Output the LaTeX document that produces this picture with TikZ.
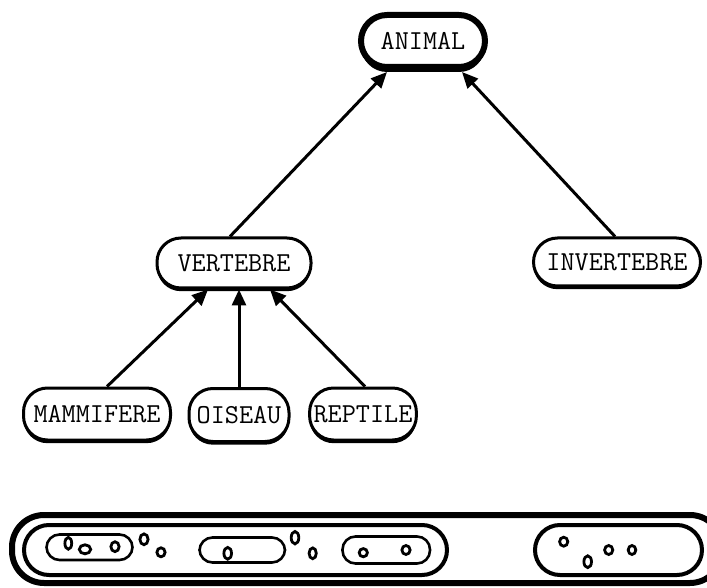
\documentclass[tikz,border=0pt]{standalone}
\usepackage{fontspec}
\usepackage{tikz}
\usetikzlibrary{
  shapes,
  arrows.meta,
  shadows,      % Key "drop shadow" (thicker lower border)
}
\tikzset{
  font=\ttfamily\fontsize{13.7pt}{16pt}\selectfont,
  semithick,
  my class/.style={
    draw,
    fill=white,
    rectangle,
    rounded corners=12pt,
    line width=1.5pt,
    inner xsep=2pt,
    inner ysep=0pt,
    drop shadow={shadow xshift=0pt,shadow yshift=-1.6pt,opacity=1,fill=black}
  },
  my root/.style={
    draw,
    fill=white,
    rectangle,
    rounded corners=13pt,
    line width=3pt,
    inner xsep=2pt,
    inner ysep=0pt,
    drop shadow={shadow xshift=0pt,shadow yshift=-2.5pt,opacity=1,fill=black}
  },
  my link/.style={
    -{Triangle[length=8pt,width=7pt]},
    line width=1.5pt
  },
  my universe/.style={
    line width=3pt,
    rounded corners=16pt
  },
  my set/.style={
    line width=2pt,
    rounded corners=12.5pt
  },
  my subset/.style={
    line width=1.3pt,
    rounded corners=6.5pt
  },
  my elem/.style={
    line width=1.4pt
  }
}

\begin{document}
\begin{tikzpicture}[x=0.5pt,y=-0.5pt]
\useasboundingbox (0,0) rectangle (707,588);
% hierarchy
\node[my root,minimum width=62pt,minimum height=26pt]    (animal)     at (423,41)  {ANIMAL};
\node[my class,minimum width=77pt,minimum height=25pt]   (vertebre)   at (234,263) {VERTEBRE};
\node[my class,minimum width=83.5pt,minimum height=24pt] (invertebre) at (617,262) {INVERTEBRE};
\node[my class,minimum width=73.5pt,minimum height=26pt] (mammifere)  at (97,414)  {MAMMIFERE};
\node[my class,minimum width=50pt,minimum height=26.5pt] (oiseau)     at (239,415) {OISEAU};
\node[my class,minimum width=53pt,minimum height=26pt]   (reptile)    at (363,414) {REPTILE};
\draw[my link] ([xshift=-2pt]vertebre.north)  -- ([xshift=14.5pt,yshift=-1pt]animal.south west);
\draw[my link] ([xshift=-1pt]invertebre.north) -- ([xshift=-13pt,yshift=-1pt]animal.south east);
\draw[my link] ([xshift=5pt]mammifere.north)  -- ([xshift=-13pt]vertebre.south);
\draw[my link] (oiseau.north)                 -- ([xshift=2.5pt]vertebre.south);
\draw[my link] ([xshift=1pt]reptile.north)    -- ([xshift=18pt]vertebre.south);
% sets of instances
\draw[my universe] (12,515) rectangle (722,583);
\draw[my set] (24,525) rectangle (447,575);
\draw[my set] (535,525) rectangle (702,575);
\draw[my subset] (46.5,534.5) rectangle (132.5,560);
\draw[my subset] (199.5,537.5) rectangle (285,562.5);
\draw[my subset] (342.5,536.5) rectangle (430,563.5);
\foreach \ex/\ey/\rx/\ry in {68.3/543.3/3.4/5.9, 85/549.3/5.7/4.5, 115/546.7/4.1/4.9,
                             144/539.3/4.1/5.4, 161/552.3/4.1/4.5, 227.7/553.3/3.8/5.9,
                             295/537.7/3.8/6.2, 312.7/553.3/3.6/5.4, 363.3/552.7/4.1/4.1,
                             406/550/4.1/4.5, 563.7/541.7/4.1/4.5, 587.7/561.7/3.8/5.9,
                             608.7/550/4.1/4.5, 632/550/3.8/4.5}
  \draw[my elem] (\ex,\ey) ellipse [x radius=\rx, y radius=\ry];
%\node at (360,500) {};
\end{tikzpicture}
\end{document}
